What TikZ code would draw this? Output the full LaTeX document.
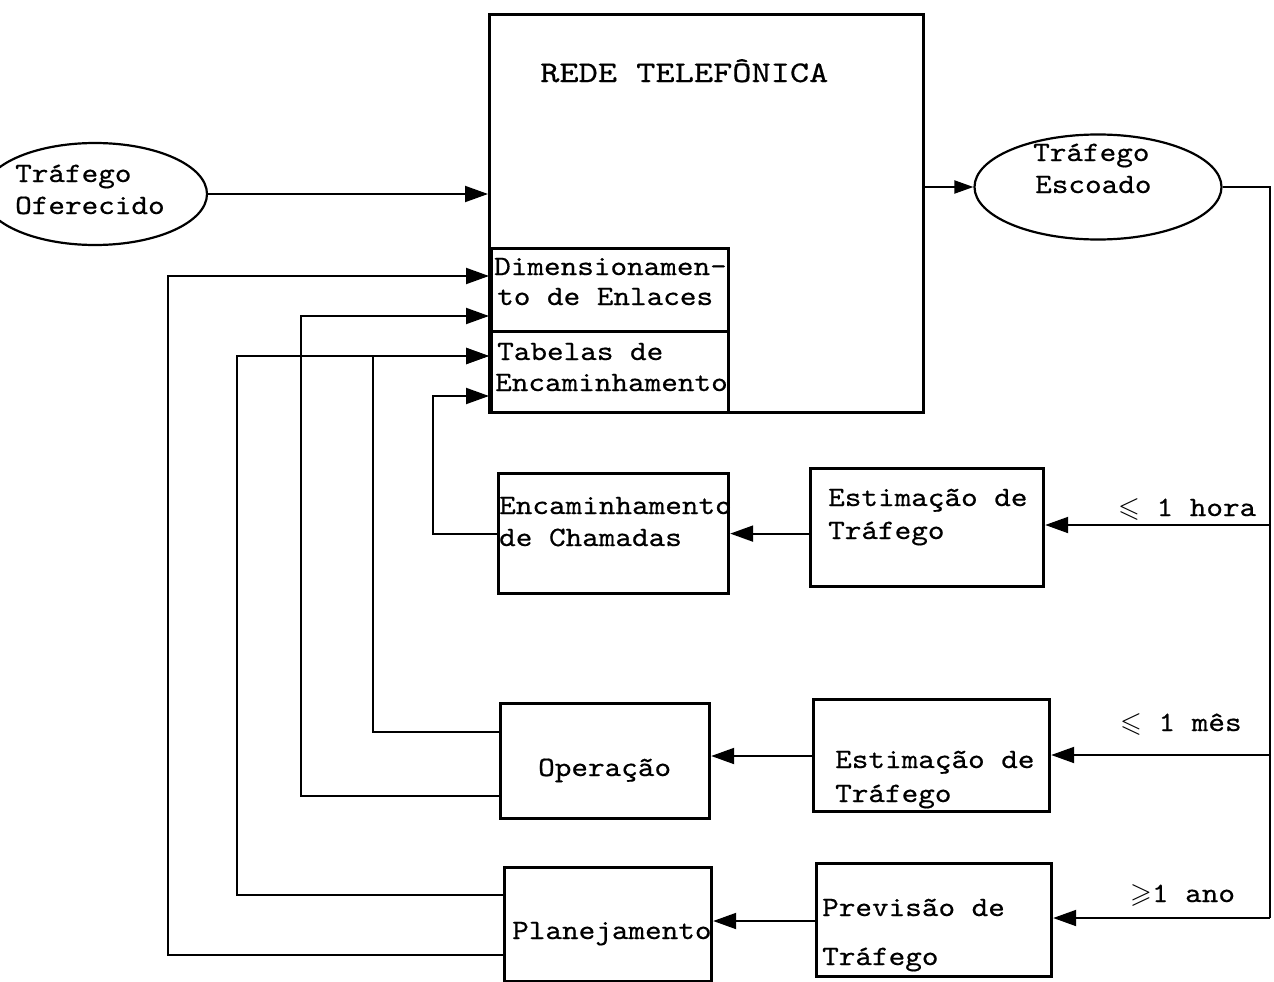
\documentclass[tikz,border=0pt]{standalone}
\usepackage{fontspec}
\usepackage{amssymb}
\usetikzlibrary{arrows.meta,shapes.geometric}
\newfontfamily\typefont{lmmono10-regular.otf}[FakeStretch=1.13,FakeBold=0.5]
\newfontfamily\headfont{lmmono10-regular.otf}[FakeStretch=1.22,FakeBold=0.5]
\begin{document}
\begin{tikzpicture}[x=1pt,y=-1pt,
  box/.style={draw, line width=3.2pt, anchor=north west, inner sep=0pt},
  ell/.style={draw, ellipse, line width=2.2pt, inner sep=0pt},
  conn/.style={line width=2pt},
  arr/.style={conn, -{Triangle[length=23pt,width=16pt]}},
  smallarr/.style={conn, -{Triangle[length=19pt,width=13pt]}},
  txt/.style={anchor=base west, inner sep=0pt, font=\typefont\fontsize{28}{33}\selectfont},
  title/.style={anchor=base west, inner sep=0pt, font=\headfont\fontsize{30}{36}\selectfont}
]
\useasboundingbox (0,0) rectangle (1274,982);

% network block with its two inner tables
\node[box, minimum width=434pt, minimum height=398pt] (rede) at (488,13) {};
\node[box, minimum width=237pt, minimum height=83pt] (dim) at (490,247) {};
\node[box, minimum width=237pt, minimum height=81pt] (tab) at (490,330) {};
\node[title] (t-rede) at (540,82) {REDE TELEFÔNICA};
\node[txt] (t-dim1) at (494,275) {Dimensionamen-};
\node[txt] (t-dim2) at (497,305) {to de Enlaces};
\node[txt] (t-tab1) at (497,360) {Tabelas de};
\node[txt] (t-tab2) at (495,391) {Encaminhamento};

% traffic ellipses
\node[ell, minimum width=224pt, minimum height=102pt] (ofer) at (95,194) {};
\node[txt] (t-of1) at (15,182) {Tráfego};
\node[txt] (t-of2) at (15,214) {Oferecido};
\node[ell, minimum width=247pt, minimum height=105pt] (esc) at (1098,187) {};
\node[txt] (t-es1) at (1033,161) {Tráfego};
\node[txt] (t-es2) at (1035,193) {Escoado};

% processing blocks
\node[box, minimum width=230pt, minimum height=120pt] (enc) at (497,472) {};
\node[txt] (t-enc1) at (499,514) {Encaminhamento};
\node[txt] (t-enc2) at (499,546) {de Chamadas};
\node[box, minimum width=233pt, minimum height=118pt] (est1) at (809,467) {};
\node[txt] (t-est11) at (828,506) {Estimação de};
\node[txt] (t-est12) at (828,539) {Tráfego};

\node[box, minimum width=209pt, minimum height=115pt] (op) at (499,702) {};
\node[txt] (t-op) at (538,776) {Operação};
\node[box, minimum width=236pt, minimum height=112pt] (est2) at (812,698) {};
\node[txt] (t-est21) at (835,768) {Estimação de};
\node[txt] (t-est22) at (835,802) {Tráfego};

\node[box, minimum width=207pt, minimum height=114pt] (plan) at (503,866) {};
\node[txt] (t-plan) at (512,939) {Planejamento};
\node[box, minimum width=235pt, minimum height=113pt] (prev) at (815,862) {};
\node[txt] (t-prev1) at (822,916) {Previsão de};
\node[txt] (t-prev2) at (822,965) {Tráfego};

% horizon labels
\node[txt] (l-hora) at (1118,516) {$\leqslant$ 1 hora};
\node[txt] (l-mes) at (1120,731) {$\leqslant$ 1 mês};
\node[txt] (l-ano) at (1130,902) {$\geqslant$1 ano};

% entry points on the network block
\coordinate (inA) at (489,276);
\coordinate (inB) at (489,316);
\coordinate (inC) at (489,356);
\coordinate (inD) at (489,396);

% measurement bus
\coordinate (bus1) at (1270,525);
\coordinate (bus2) at (1270,755);
\coordinate (bus3) at (1270,918);

% main flow
\draw[arr] (ofer.east) -- (rede.west |- ofer.east);
\draw[smallarr] (rede.east |- esc.west) -- (esc.west);
\draw[conn] (esc.east) -| (bus3);
\draw[arr] (bus1) -- (est1.east |- bus1);
\draw[arr] (bus2) -- (est2.east |- bus2);
\draw[arr] (bus3) -- (prev.east |- bus3);
\draw[arr] (est1.west |- enc.east) -- (enc.east);
\draw[arr] (est2.west |- 0,756) -- (op.east |- 0,756);
\draw[arr] (prev.west |- 0,921) -- (plan.east |- 0,921);

% feedback to the network
\draw[arr] (enc.west) -| (433,396) -- (inD);
\draw[arr] (op.west |- 0,732) -| (373,356) -- (inC);
\draw[arr] (op.west |- 0,796) -| (301,316) -- (inB);
\draw[arr] (plan.west |- 0,895) -| (237,356) -- (inC);
\draw[arr] (plan.west |- 0,955) -| (168,276) -- (inA);
\end{tikzpicture}
\end{document}
